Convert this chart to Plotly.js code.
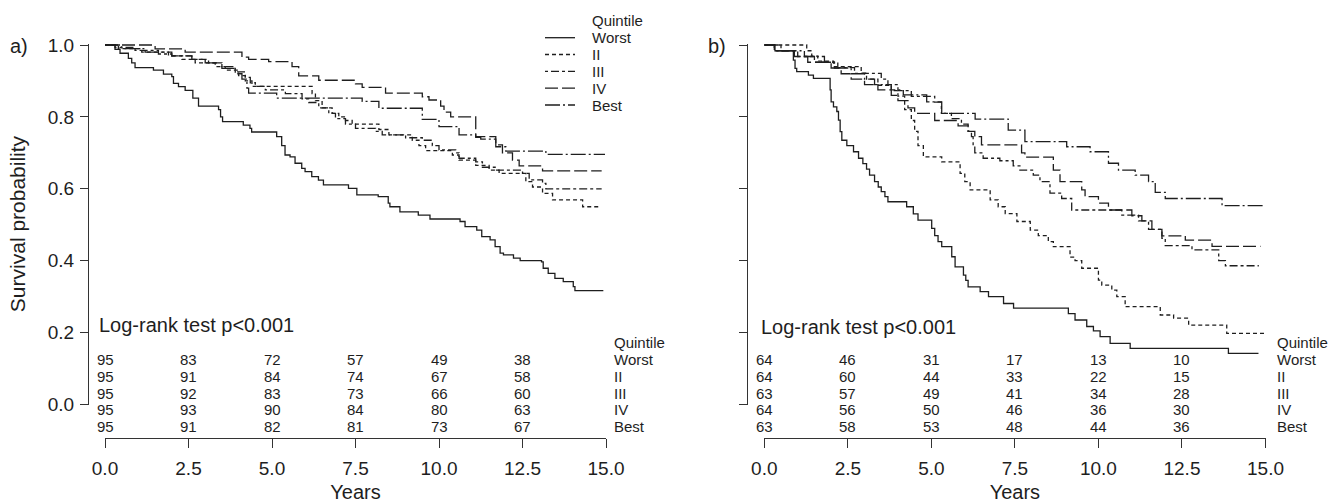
<!DOCTYPE html>
<html>
<head>
<meta charset="utf-8">
<script src="https://cdn.plot.ly/plotly-3.0.1.min.js"></script>
<style>html,body{margin:0;padding:0;background:#fff;}#chart{width:1337px;height:503px;}</style>
</head>
<body>
<div id="chart"></div>
<script>
// ---------------- DATA ----------------
const quintiles = ["Worst", "II", "III", "IV", "Best"];
const riskTimes = [0, 2.5, 5, 7.5, 10, 12.5];
const xTickVals = [0, 2.5, 5, 7.5, 10, 12.5, 15];
const yTickVals = [0, 0.2, 0.4, 0.6, 0.8, 1.0];

// Panel a) numbers at risk
const riskA_worst = [95, 83, 72, 57, 49, 38];
const riskA_ii    = [95, 91, 84, 74, 67, 58];
const riskA_iii   = [95, 92, 83, 73, 66, 60];
const riskA_iv    = [95, 93, 90, 84, 80, 63];
const riskA_best  = [95, 91, 82, 81, 73, 67];

// Panel b) numbers at risk
const riskB_worst = [64, 46, 31, 17, 13, 10];
const riskB_ii    = [64, 60, 44, 33, 22, 15];
const riskB_iii   = [63, 57, 49, 41, 34, 28];
const riskB_iv    = [64, 56, 50, 46, 36, 30];
const riskB_best  = [63, 58, 53, 48, 44, 36];

// Panel a) Kaplan-Meier curves (time in years, survival probability)
const a_worst_t = [0,0.3,0.45,0.7,0.8,0.9,1.45,1.75,2.0,2.05,2.2,2.4,2.63,2.8,3.4,3.46,3.52,4.14,4.34,4.39,5.14,5.29,5.39,5.54,5.69,5.89,5.99,6.19,6.39,6.54,7.29,7.54,8.18,8.48,8.53,8.83,9.38,9.73,10.63,10.78,11.13,11.28,11.53,11.68,11.83,11.93,12.23,12.43,13.07,13.12,13.27,13.47,13.72,14.02,14.07,14.92];
const a_worst_s = [1,0.988,0.977,0.963,0.95,0.937,0.93,0.919,0.912,0.893,0.884,0.874,0.852,0.83,0.82,0.80,0.787,0.777,0.768,0.758,0.745,0.72,0.694,0.689,0.671,0.657,0.648,0.634,0.624,0.611,0.601,0.583,0.578,0.56,0.55,0.536,0.527,0.516,0.509,0.495,0.485,0.467,0.458,0.439,0.421,0.416,0.407,0.40,0.397,0.379,0.365,0.351,0.342,0.328,0.317,0.317];
const a_ii_t = [0,0.4,1.1,1.9,2.3,2.7,3.3,3.6,4.0,4.2,4.4,6.2,6.3,6.5,6.8,7.0,7.2,7.4,8.2,8.5,9.2,9.4,9.6,10.4,10.6,11.1,11.5,11.8,12.6,12.8,13.1,13.4,14.3,14.77];
const a_ii_s = [1,0.99,0.98,0.97,0.96,0.95,0.94,0.93,0.915,0.9,0.885,0.865,0.845,0.825,0.81,0.80,0.79,0.78,0.765,0.75,0.735,0.72,0.706,0.694,0.68,0.665,0.652,0.643,0.62,0.605,0.587,0.569,0.55,0.55];
const a_iii_t = [0,0.3,0.9,1.6,2.0,2.6,3.1,3.5,3.9,4.2,4.35,4.5,4.8,5.4,5.9,6.1,6.4,6.7,6.9,7.2,7.5,8.1,8.3,9.0,9.5,9.8,10.0,10.5,10.6,11.1,11.3,11.7,12.5,12.7,13.1,13.2,14.87];
const a_iii_s = [1,0.993,0.985,0.975,0.97,0.96,0.95,0.94,0.925,0.91,0.895,0.885,0.875,0.865,0.85,0.84,0.825,0.81,0.795,0.78,0.768,0.76,0.75,0.742,0.735,0.72,0.708,0.70,0.685,0.675,0.66,0.652,0.643,0.625,0.615,0.60,0.60];
const a_iv_t = [0,1.5,2.4,4.1,4.3,4.9,5.6,5.8,6.4,7.5,7.7,8.4,9.5,9.7,10.05,10.15,10.35,11.1,11.7,11.9,12.2,12.4,13.1,14.87];
const a_iv_s = [1,0.989,0.98,0.966,0.96,0.954,0.94,0.914,0.902,0.892,0.882,0.866,0.856,0.847,0.83,0.813,0.80,0.745,0.722,0.70,0.68,0.664,0.65,0.65];
const a_best_t = [0,0.5,1.2,2.0,2.6,3.0,3.5,3.9,4.1,4.25,4.3,5.14,7.7,8.2,9.5,10.0,10.6,11.1,11.25,11.7,12.0,13.2,14.97];
const a_best_s = [1,0.99,0.98,0.97,0.96,0.95,0.935,0.92,0.905,0.88,0.866,0.852,0.843,0.824,0.793,0.773,0.75,0.743,0.738,0.717,0.705,0.696,0.696];

// Panel b) Kaplan-Meier curves
const b_worst_t = [0,0.32,0.87,0.92,0.97,1.32,1.47,1.97,2.0,2.07,2.17,2.22,2.27,2.32,2.47,2.67,2.82,2.95,3.06,3.15,3.3,3.41,3.5,3.61,3.7,4.26,4.46,4.6,5.01,5.1,5.2,5.31,5.61,5.71,5.96,6.03,6.1,6.46,6.71,7.16,7.46,9.10,9.30,9.65,9.85,10.05,10.35,10.95,13.89,14.79];
const b_worst_s = [1,0.984,0.958,0.935,0.926,0.916,0.907,0.875,0.842,0.828,0.815,0.791,0.759,0.735,0.72,0.703,0.685,0.67,0.655,0.638,0.62,0.605,0.592,0.578,0.564,0.550,0.53,0.513,0.49,0.47,0.453,0.439,0.411,0.383,0.36,0.345,0.327,0.314,0.30,0.281,0.268,0.253,0.235,0.217,0.205,0.189,0.170,0.156,0.142,0.142];
const b_ii_t = [0,1.27,1.42,1.6,2.07,2.9,3.06,3.4,3.8,4.0,4.2,4.4,4.5,4.6,4.76,5.31,5.86,6.0,6.16,6.76,7.0,7.21,7.56,7.96,8.2,8.5,8.65,9.15,9.3,9.5,10.0,10.1,10.4,10.55,10.8,11.85,12.25,12.7,13.84,15.0];
const b_ii_s = [1,0.984,0.969,0.955,0.94,0.922,0.905,0.888,0.873,0.858,0.82,0.79,0.76,0.72,0.689,0.675,0.643,0.62,0.597,0.569,0.55,0.531,0.509,0.485,0.47,0.453,0.439,0.41,0.40,0.379,0.346,0.332,0.318,0.30,0.272,0.249,0.24,0.221,0.198,0.198];
const b_iii_t = [0,0.5,1.0,1.5,2.2,2.7,3.5,3.7,4.0,4.4,5.1,5.3,5.6,5.9,6.1,6.2,6.25,6.3,6.55,7.05,7.45,7.65,8.05,8.25,8.55,8.9,9.2,10.7,11.2,11.5,11.9,12.0,12.8,13.6,13.8,14.8];
const b_iii_s = [1,0.984,0.968,0.952,0.937,0.921,0.905,0.89,0.873,0.857,0.841,0.81,0.795,0.78,0.76,0.745,0.72,0.70,0.685,0.678,0.664,0.652,0.638,0.62,0.588,0.573,0.541,0.527,0.511,0.487,0.462,0.442,0.43,0.40,0.386,0.386];
const b_iv_t = [0,0.3,0.9,1.3,2.0,2.3,2.6,3.0,3.4,3.8,4.0,4.3,4.5,5.1,5.8,6.1,6.3,6.5,7.7,7.8,8.65,8.85,9.5,9.6,10.0,10.3,11.0,11.3,11.6,11.9,12.6,13.4,14.85];
const b_iv_s = [1,0.984,0.968,0.952,0.936,0.92,0.905,0.89,0.875,0.86,0.845,0.825,0.81,0.79,0.775,0.76,0.745,0.722,0.70,0.688,0.652,0.62,0.597,0.578,0.56,0.541,0.525,0.511,0.487,0.469,0.457,0.44,0.44];
const b_best_t = [0,0.3,1.2,1.8,2.1,2.6,3.0,3.3,3.8,4.16,4.86,5.31,6.31,7.3,7.8,9.05,9.75,10.3,10.6,11.1,11.5,11.7,12.0,13.7,14.94];
const b_best_s = [1,0.984,0.968,0.952,0.936,0.92,0.905,0.89,0.875,0.861,0.842,0.81,0.794,0.763,0.731,0.717,0.703,0.671,0.652,0.638,0.62,0.59,0.573,0.553,0.553];

// ---------------- STYLE / LAYOUT ----------------
const W = 1337, H = 503;
const FONT = '"Liberation Sans", Arial, Helvetica, sans-serif';
const INK = '#1e1e1e';
const AX = '#333333';
const dashOf = {
  "Worst": "solid",
  "II": "4px,3px",
  "III": "3px,3px,8px,3px",
  "IV": "13px,4px",
  "Best": "15px,3px,2px,3px"
};
const px = p => p / W;
const py = p => 1 - p / H;

// pixel geometry
const yZeroPx = 404.5, yUnitPx = 359.5;
const yTopVal = 1.004;
const yDomain = [py(yZeroPx), py(yZeroPx - yTopVal * yUnitPx)];
const xAxisPos = py(437.7);

const curvesA = {
  "Worst": [a_worst_t, a_worst_s], "II": [a_ii_t, a_ii_s], "III": [a_iii_t, a_iii_s],
  "IV": [a_iv_t, a_iv_s], "Best": [a_best_t, a_best_s]
};
const curvesB = {
  "Worst": [b_worst_t, b_worst_s], "II": [b_ii_t, b_ii_s], "III": [b_iii_t, b_iii_s],
  "IV": [b_iv_t, b_iv_s], "Best": [b_best_t, b_best_s]
};
const riskA = {"Worst": riskA_worst, "II": riskA_ii, "III": riskA_iii, "IV": riskA_iv, "Best": riskA_best};
const riskB = {"Worst": riskB_worst, "II": riskB_ii, "III": riskB_iii, "IV": riskB_iv, "Best": riskB_best};

const traces = [];
function addCurves(curves, xa, ya) {
  quintiles.forEach(q => {
    traces.push({
      type: 'scatter', mode: 'lines', name: q,
      x: curves[q][0], y: curves[q][1],
      xaxis: xa, yaxis: ya,
      line: {shape: 'hv', color: INK, width: 1.3, dash: dashOf[q]},
      showlegend: false, hoverinfo: 'skip'
    });
  });
}
addCurves(curvesA, 'x', 'y');
addCurves(curvesB, 'x2', 'y2');

function xAxis(domain, title) {
  return {
    domain: domain, range: [0, 15], anchor: 'free', position: xAxisPos,
    tickvals: xTickVals, tickformat: '.1f',
    ticks: 'outside', ticklen: 9, tickwidth: 1, tickcolor: AX,
    showline: true, linecolor: AX, linewidth: 1,
    showgrid: false, zeroline: false, fixedrange: true,
    tickfont: {family: FONT, size: 19, color: INK},
    ticklabelstandoff: 4,
    title: {text: title, font: {family: FONT, size: 20, color: INK}, standoff: 17}
  };
}
function yAxis(posPx, labels, title) {
  return {
    domain: yDomain, range: [0, yTopVal], anchor: 'free', position: px(posPx),
    tickvals: yTickVals, tickformat: '.1f', showticklabels: labels,
    ticks: 'outside', ticklen: 8, tickwidth: 1, tickcolor: AX,
    showline: true, linecolor: AX, linewidth: 1,
    showgrid: false, zeroline: false, fixedrange: true,
    tickfont: {family: FONT, size: 19, color: INK},
    ticklabelstandoff: 2,
    title: {text: title, font: {family: FONT, size: 21, color: INK}, standoff: 15}
  };
}

const annotations = [];
const shapes = [];
function txt(text, x, y, opts) {
  annotations.push(Object.assign({
    text: text, x: x, y: y, xref: 'paper', yref: 'paper',
    showarrow: false, xanchor: 'center', yanchor: 'middle',
    font: {family: FONT, size: 15, color: INK}
  }, opts || {}));
}

// panel labels
txt('a)', px(19), py(46), {font: {family: FONT, size: 20, color: INK}});
txt('b)', px(717), py(46), {font: {family: FONT, size: 20, color: INK}});

// log-rank
txt('Log-rank test p<0.001', px(97), py(325), {xanchor: 'left', font: {family: FONT, size: 20, color: INK}});
txt('Log-rank test p<0.001', px(759), py(327), {xanchor: 'left', font: {family: FONT, size: 20, color: INK}});

// numbers at risk tables
const rowPx = [359, 376, 393, 409.5, 426.5];
const headPx = 342;
function riskTable(risk, xref, shift) {
  txt('Quintile', 15, py(headPx), {xref: xref, xanchor: 'left', xshift: shift});
  quintiles.forEach((q, i) => {
    riskTimes.forEach((t, j) => {
      txt(String(risk[q][j]), t, py(rowPx[i]), {xref: xref});
    });
    txt(q, 15, py(rowPx[i]), {xref: xref, xanchor: 'left', xshift: shift});
  });
}
riskTable(riskA, 'x', 6);
riskTable(riskB, 'x2', 9);

// legend (panel a)
const legRowPx = [37.7, 54.5, 71.3, 88.1, 105];
txt('Quintile', px(590), py(20.5), {xanchor: 'left'});
quintiles.forEach((q, i) => {
  txt(q, px(590), py(legRowPx[i]), {xanchor: 'left'});
  shapes.push({
    type: 'line', xref: 'paper', yref: 'paper',
    x0: px(545), x1: px(575), y0: py(legRowPx[i]), y1: py(legRowPx[i]),
    line: {color: INK, width: 1.3, dash: dashOf[q]}
  });
});

const layout = {
  width: W, height: H,
  margin: {l: 0, r: 0, t: 0, b: 0},
  paper_bgcolor: '#ffffff', plot_bgcolor: '#ffffff',
  showlegend: false,
  font: {family: FONT, color: INK},
  xaxis: xAxis([px(105), px(606)], 'Years'),
  yaxis: yAxis(88, true, 'Survival probability'),
  xaxis2: xAxis([px(764.3), px(1265.5)], 'Years'),
  yaxis2: yAxis(746.7, false, ''),
  annotations: annotations,
  shapes: shapes
};

Plotly.newPlot('chart', traces, layout, {staticPlot: true, displayModeBar: false});
</script>
</body>
</html>
